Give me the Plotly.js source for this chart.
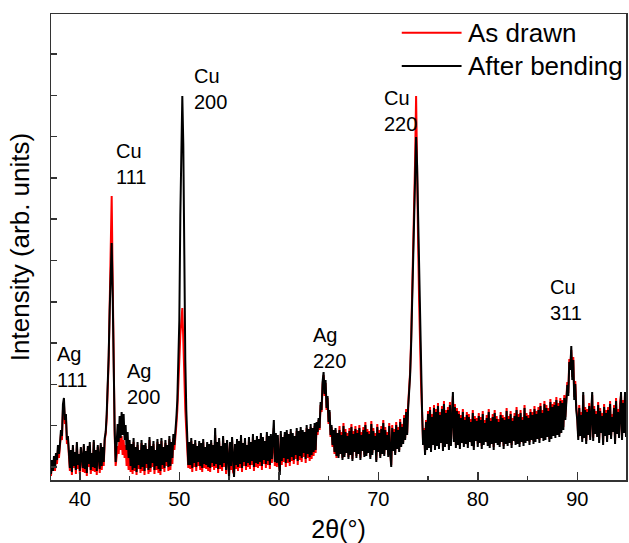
<!DOCTYPE html>
<html>
<head>
<meta charset="utf-8">
<script src="https://cdn.plot.ly/plotly-3.0.1.min.js"></script>
<style>html,body{margin:0;padding:0;background:#fff;}#chart{width:629px;height:543px;}</style>
</head>
<body>
<div id="chart"></div>
<script>
// 2θ sampling grid of the scan
const twoThetaStart = 37.0;
const twoThetaStep = 0.1;

// Intensity (arb. units), one row per degree: 37.0..37.9, 38.0..38.9, ...
const asDrawn = [
  10, 4, 18, 11, 20, 9, 25, 16, 30, 22,
  34, 46, 40, 70, 76, 56, 62, 36, 40, 20,
  9, 28, 5, 32, 12, 26, 6, 35, 11, 24,
  6, 31, 15, 8, 34, 7, 27, 4, 32, 13,
  35, 6, 25, 9, 38, 8, 28, 5, 33, 16,
  7, 35, 10, 30, 14, 40, 46, 62, 85, 120,
  175, 230, 284, 200, 100, 45, 14, 28, 34, 26,
  45, 30, 44, 25, 40, 22, 35, 14, 30, 10,
  36, 8, 33, 6, 38, 9, 30, 5, 35, 11,
  27, 7, 37, 9, 32, 5, 34, 12, 28, 6,
  40, 8, 31, 13, 36, 6, 27, 10, 38, 7,
  33, 5, 39, 11, 30, 8, 37, 14, 32, 9,
  41, 10, 34, 16, 42, 30, 48, 55, 70, 90,
  120, 145, 165, 172, 140, 100, 70, 50, 35, 12,
  35, 11, 39, 8, 33, 13, 37, 9, 31, 14,
  36, 10, 34, 8, 38, 12, 30, 11, 35, 9,
  33, 8, 37, 13, 32, 10, 45, 12, 35, 7,
  39, 11, 31, 9, 41, 13, 34, 6, 37, 12,
  6, 35, 10, 40, 8, 6, 33, 11, 38, 9,
  36, 12, 42, 8, 34, 14, 39, 10, 32, 13,
  40, 11, 35, 15, 43, 9, 37, 13, 41, 12,
  38, 14, 44, 10, 40, 16, 36, 12, 45, 15,
  41, 11, 43, 17, 39, 52, 14, 44, 13, 42,
  16, 9, 46, 15, 40, 18, 45, 13, 47, 17,
  43, 14, 48, 19, 44, 16, 41, 21, 49, 15,
  46, 20, 50, 18, 47, 23, 45, 17, 52, 22,
  48, 19, 53, 21, 49, 24, 54, 27, 56, 45,
  60, 50, 75, 68, 95, 105, 84, 97, 70, 82,
  56, 68, 43, 53, 33, 48, 26, 50, 22, 45,
  24, 54, 28, 48, 22, 57, 25, 51, 29, 47,
  23, 52, 27, 56, 21, 49, 30, 54, 24, 50,
  28, 55, 22, 48, 31, 53, 25, 58, 26, 51,
  29, 49, 23, 59, 27, 52, 32, 47, 20, 56,
  30, 50, 24, 54, 28, 60, 26, 53, 32, 48,
  25, 57, 29, 15, 55, 31, 51, 27, 58, 33,
  53, 30, 61, 35, 56, 38, 65, 42, 71, 47,
  75, 88, 108, 140, 180, 235, 285, 320, 384, 290,
  240, 180, 130, 95, 68, 38, 52, 28, 60, 33,
  69, 35, 73, 31, 66, 38, 75, 33, 71, 37,
  77, 34, 68, 40, 74, 32, 79, 36, 70, 39,
  73, 33, 78, 37, 67, 84, 41, 76, 35, 72,
  38, 69, 34, 65, 40, 71, 36, 63, 39, 68,
  35, 66, 41, 61, 37, 70, 33, 64, 42, 62,
  36, 67, 40, 63, 34, 69, 38, 60, 41, 65,
  37, 71, 35, 62, 39, 66, 33, 70, 40, 64,
  38, 61, 36, 68, 41, 65, 34, 63, 39, 72,
  37, 64, 40, 69, 35, 62, 42, 67, 38, 73,
  39, 66, 36, 70, 41, 63, 37, 75, 40, 67,
  42, 65, 38, 71, 43, 68, 39, 74, 41, 69,
  44, 73, 40, 77, 45, 70, 42, 79, 43, 75,
  46, 72, 41, 81, 44, 76, 47, 78, 45, 83,
  48, 77, 46, 82, 50, 80, 53, 85, 63, 78,
  98, 87, 121, 113, 130, 103, 123, 83, 99, 73,
  63, 43, 75, 47, 68, 41, 85, 45, 73, 39,
  71, 48, 77, 43, 65, 85, 42, 74, 49, 69,
  46, 78, 40, 72, 50, 67, 38, 76, 47, 70,
  41, 73, 48, 79, 44, 66, 51, 75, 39, 82,
  49, 71, 45, 77, 85, 43, 80, 50, 86, 46,
  73
];

const afterBending = [
  14, 6, 20, 9, 24, 12, 27, 20, 35, 26,
  36, 50, 44, 76, 82, 60, 66, 40, 44, 22,
  12, 30, 8, 35, 14, 28, 10, 38, 15, 26,
  9, 33, 18, 12, 36, 11, 29, 7, 34, 16,
  38, 10, 27, 13, 40, 12, 30, 9, 35, 20,
  11, 37, 14, 33, 18, 42, 48, 66, 90, 125,
  170, 215, 237, 185, 110, 50, 18, 42, 56, 38,
  64, 42, 68, 45, 66, 40, 55, 30, 48, 22,
  40, 14, 36, 10, 42, 12, 33, 8, 38, 15,
  30, 11, 40, 13, 35, 9, 37, 16, 31, 10,
  43, 12, 34, 17, 39, 10, 30, 14, 41, 11,
  36, 9, 42, 15, 33, 12, 40, 18, 35, 13,
  44, 14, 38, 22, 46, 35, 55, 62, 80, 110,
  160, 265, 345, 384, 335, 215, 120, 70, 45, 15,
  38, 15, 42, 12, 36, 17, 40, 13, 34, 18,
  39, 14, 37, 12, 41, 16, 33, 15, 38, 13,
  36, 12, 40, 17, 35, 14, 52, 16, 38, 11,
  42, 15, 34, 13, 44, 17, 37, 10, 40, 16,
  2, 38, 14, 43, 12, 3, 36, 15, 41, 13,
  39, 16, 45, 12, 37, 18, 42, 14, 35, 17,
  43, 15, 38, 19, 46, 13, 40, 17, 44, 16,
  41, 18, 47, 14, 43, 20, 39, 16, 48, 19,
  44, 15, 46, 21, 42, 60, 18, 47, 17, 45,
  20, 5, 49, 19, 43, 22, 48, 17, 50, 21,
  46, 18, 51, 23, 47, 20, 44, 25, 52, 19,
  49, 24, 53, 22, 50, 27, 48, 21, 55, 26,
  51, 23, 56, 25, 52, 28, 57, 30, 58, 48,
  62, 52, 78, 70, 98, 108, 86, 100, 72, 84,
  58, 70, 45, 55, 35, 50, 28, 52, 24, 47,
  22, 50, 26, 45, 20, 54, 23, 48, 27, 44,
  21, 49, 25, 53, 19, 46, 28, 51, 22, 47,
  26, 52, 20, 45, 29, 50, 23, 55, 24, 48,
  27, 46, 21, 56, 25, 49, 30, 44, 18, 53,
  28, 47, 22, 51, 26, 57, 24, 50, 30, 45,
  23, 54, 27, 13, 52, 29, 48, 25, 55, 31,
  50, 28, 58, 33, 53, 36, 62, 40, 68, 45,
  72, 85, 105, 135, 175, 230, 280, 315, 343, 315,
  265, 205, 145, 100, 70, 35, 50, 25, 58, 30,
  66, 32, 70, 28, 63, 35, 72, 30, 68, 34,
  74, 31, 65, 37, 71, 29, 76, 33, 67, 36,
  70, 30, 75, 34, 64, 88, 38, 73, 32, 69,
  35, 66, 31, 62, 37, 68, 33, 60, 36, 65,
  32, 63, 38, 58, 34, 67, 30, 61, 39, 59,
  33, 64, 37, 60, 31, 66, 35, 57, 38, 62,
  34, 68, 32, 59, 36, 63, 30, 67, 37, 61,
  35, 58, 33, 65, 38, 62, 31, 60, 36, 69,
  34, 61, 37, 66, 32, 59, 39, 64, 35, 70,
  36, 63, 33, 67, 38, 60, 34, 72, 37, 64,
  39, 62, 35, 68, 40, 65, 36, 71, 38, 66,
  41, 70, 37, 74, 42, 67, 39, 76, 40, 72,
  43, 69, 38, 78, 41, 73, 44, 75, 42, 80,
  45, 74, 43, 79, 47, 77, 50, 82, 60, 75,
  95, 84, 118, 110, 134, 100, 120, 80, 96, 70,
  60, 40, 72, 44, 65, 38, 88, 42, 70, 36,
  68, 45, 74, 40, 62, 88, 39, 71, 46, 66,
  43, 75, 37, 69, 47, 64, 35, 73, 44, 67,
  38, 70, 45, 76, 41, 63, 48, 72, 36, 79,
  46, 68, 42, 74, 88, 40, 77, 47, 88, 43,
  70
];

// Peak labels (reflection names) and where they sit
const peakLabels = ['Ag<br>111', 'Cu<br>111', 'Ag<br>200', 'Cu<br>200', 'Ag<br>220', 'Cu<br>220', 'Cu<br>311'];
const peakLabelX = [37.5, 43.4, 44.5, 51.3, 63.2, 70.4, 87.05];
const peakLabelY = [113, 316, 96, 391, 132, 369, 180];

const seriesNames = ['As drawn', 'After bending'];
const seriesColors = ['#ff0000', '#000000'];

const twoTheta = afterBending.map((_, i) => +(twoThetaStart + i * twoThetaStep).toFixed(1));

const traces = [asDrawn, afterBending].map((vals, k) => ({
  type: 'scatter',
  mode: 'lines',
  x: twoTheta,
  y: vals,
  name: seriesNames[k],
  line: {color: seriesColors[k], width: 2},
  hoverinfo: 'x+y+name'
}));

const annotations = peakLabels.map((t, i) => ({
  text: t, x: peakLabelX[i], y: peakLabelY[i], xref: 'x', yref: 'y',
  xanchor: 'left', yanchor: 'middle', align: 'left', showarrow: false,
  font: {size: 20, color: '#000'}
}));

// Legend drawn in the top-right corner (long line samples as in the original)
const legendShapes = [];
seriesNames.forEach((nm, k) => {
  const yp = 1 - (18.7 + 33.3 * k) / 466;
  legendShapes.push({type: 'line', xref: 'paper', yref: 'paper',
    x0: 0.610, x1: 0.714, y0: yp, y1: yp, line: {color: seriesColors[k], width: 2}});
  annotations.push({text: nm, xref: 'paper', yref: 'paper', x: 0.722, y: yp,
    xanchor: 'left', yanchor: 'middle', showarrow: false, font: {size: 26, color: '#000'}});
});

const layout = {
  width: 629, height: 543,
  margin: {l: 51, r: 1, t: 14, b: 63, pad: 0},
  paper_bgcolor: '#fff', plot_bgcolor: '#fff',
  font: {family: 'Liberation Sans, Arial, sans-serif', color: '#000'},
  showlegend: false,
  xaxis: {
    range: [37.1, 94.9], tick0: 0, dtick: 10, ticks: 'inside', ticklen: 8, tickwidth: 1.5,
    tickcolor: '#333', linecolor: '#333', linewidth: 1.5, mirror: true, showline: true,
    showgrid: false, zeroline: false, tickfont: {size: 20, color: '#000'}, automargin: false,
    minor: {dtick: 5, ticks: 'inside', ticklen: 4, tickwidth: 1.5, tickcolor: '#333', showgrid: false},
    title: {text: '2θ(°)', font: {size: 25, color: '#000'}}
  },
  yaxis: {
    range: [0, 466], tick0: 13, dtick: 41.3, ticks: 'inside', ticklen: 6, tickwidth: 1.5,
    tickcolor: '#333', linecolor: '#333', linewidth: 1.5, mirror: true, showline: true,
    showgrid: false, zeroline: false, showticklabels: false, automargin: true,
    title: {text: 'Intensity (arb. units)', font: {size: 26, color: '#000'}, standoff: 12}
  },
  shapes: legendShapes,
  annotations: annotations
};

Plotly.newPlot('chart', traces, layout, {displayModeBar: false, staticPlot: true});
</script>
</body>
</html>
